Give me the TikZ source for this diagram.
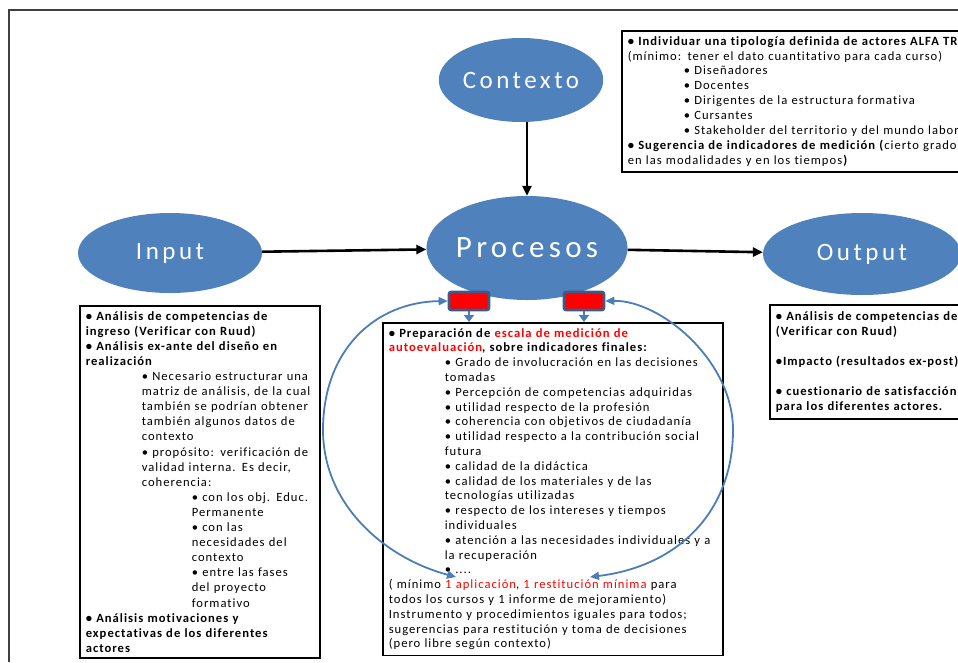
\documentclass[tikz,border=0pt]{standalone}
\usepackage{fontspec}
\setmainfont{Carlito}[LetterSpace=8,Ligatures=NoCommon]
\newfontfamily\phasefont{Carlito}[LetterSpace=14,Ligatures=NoCommon]
\usetikzlibrary{shapes.geometric,arrows.meta}
\definecolor{officeblue}{HTML}{4F81BD}
\definecolor{tagborder}{HTML}{385D8A}
\definecolor{loopblue}{HTML}{4A7EBB}
\newcommand\indA{\hspace*{56pt}}
\newcommand\indB{\hspace*{106pt}}
\newcommand\hl[1]{\textcolor{red}{#1}}

\begin{document}
\begin{tikzpicture}[x=1pt,y=-1pt,
  phase/.style={ellipse,fill=officeblue,text=white,inner sep=0pt,font=\phasefont\fontsize{25}{30}\selectfont},
  infobox/.style={draw,line width=1.6pt,anchor=north west,align=left,inner xsep=6pt,inner ysep=5.5pt},
  flow/.style={-{Triangle[length=10pt,width=9pt]},line width=2.6pt},
  tag/.style={fill=red,draw=tagborder,line width=2.6pt,rounded corners=2pt,minimum width=40pt,minimum height=18pt,inner sep=0pt},
  loop/.style={{Triangle[length=9pt,width=8pt]}-{Triangle[length=9pt,width=8pt]},loopblue,line width=1.8pt},
  drop/.style={-{Triangle[length=7pt,width=10pt]},loopblue,line width=1.8pt}]
  \useasboundingbox (0,0) rectangle (958,662);
  \clip (0,0) rectangle (958,662);
  \draw[line width=1.2pt,black!75] (958,10) -- (9,10) -- (9,662);

  % the four phases
  \node[phase,minimum width=146pt,minimum height=84pt] (ctx) at (521,80) {Contexto};
  \node[phase,minimum width=199pt,minimum height=104pt,font=\phasefont\fontsize{31}{36}\selectfont] (proc) at (527,248) {Procesos};
  \node[phase,minimum width=184pt,minimum height=80pt] (inp) at (170,253) {Input};
  \node[phase,minimum width=198pt,minimum height=82pt] (outp) at (862,254) {Output};

  \draw[flow] (proc.north |- ctx.south) -- (proc.north);
  \draw[flow] (inp) -- (proc);
  \draw[flow] (proc) -- (outp);

  % boxes under the phases
  \node[infobox,text width=400pt,font=\fontsize{12.6}{14.9}\selectfont] (ctxbox) at (621,30) {%
    \textbf{• Individuar una tipología definida de actores ALFA TRA}\\
    (mínimo: tener el dato cuantitativo para cada curso)\\
    \indA • Diseñadores\\
    \indA • Docentes\\
    \indA • Dirigentes de la estructura formativa\\
    \indA • Cursantes\\
    \indA • Stakeholder del territorio y del mundo labora\\
    \textbf{• Sugerencia de indicadores de medición (}cierto grado\\
    en las modalidades y en los tiempos\textbf{)}};

  \node[infobox,text width=228pt,font=\fontsize{12.6}{15.1}\selectfont] (inbox) at (79,305) {%
    \textbf{• Análisis de competencias de}\\
    \textbf{ingreso (Verificar con Ruud)}\\
    \textbf{• Análisis ex-ante del diseño en}\\
    \textbf{realización}\\
    \indA • Necesario estructurar una\\
    \indA matriz de análisis, de la cual\\
    \indA también se podrían obtener\\
    \indA también algunos datos de\\
    \indA contexto\\
    \indA • propósito: verificación de\\
    \indA validad interna. Es decir,\\
    \indA coherencia:\\
    \indB • con los obj. Educ.\\
    \indB Permanente\\
    \indB • con las\\
    \indB necesidades del\\
    \indB contexto\\
    \indB • entre las fases\\
    \indB del proyecto\\
    \indB formativo\\
    \textbf{• Análisis motivaciones y}\\
    \textbf{expectativas de los diferentes}\\
    \textbf{actores}};

  \node[infobox,text width=328pt,font=\fontsize{12.6}{14.8}\selectfont] (procbox) at (382,322) {%
    \textbf{• Preparación de \hl{escala de medición de}}\\
    \textbf{\hl{autoevaluación}, sobre indicadores finales:}\\
    \indA • Grado de involucración en las decisiones\\
    \indA tomadas\\
    \indA • Percepción de competencias adquiridas\\
    \indA • utilidad respecto de la profesión\\
    \indA • coherencia con objetivos de ciudadanía\\
    \indA • utilidad respecto a la contribución social\\
    \indA futura\\
    \indA • calidad de la didáctica\\
    \indA • calidad de los materiales y de las\\
    \indA tecnologías utilizadas\\
    \indA • respecto de los intereses y tiempos\\
    \indA individuales\\
    \indA • atención a las necesidades individuales y a\\
    \indA la recuperación\\
    \indA • ....\\
    ( mínimo \hl{1 aplicación}, \hl{1 restitución mínima} para\\
    todos los cursos y 1 informe de mejoramiento)\\
    Instrumento y procedimientos iguales para todos;\\
    sugerencias para restitución y toma de decisiones\\
    (pero libre según contexto)};

  \node[infobox,text width=300pt,inner ysep=7pt,font=\bfseries\fontsize{12.6}{14.6}\selectfont] (outbox) at (769,304) {%
    • Análisis de competencias de\\
    (Verificar con Ruud)\\[15.5pt]
    •Impacto (resultados ex-post)\\[15.5pt]
    • cuestionario de satisfacción\\
    para los diferentes actores.};

  % red markers and the feedback loops
  \node[tag] (ltag) at (469,301) {};
  \node[tag] (rtag) at (584,301) {};
  \draw[drop] (ltag.south) -- (ltag.south |- procbox.north);
  \draw[drop] (rtag.south) -- (rtag.south |- procbox.north);
  \coordinate (lhit) at (456,577);
  \coordinate (rhit) at (590,577);
  \draw[loop] (ltag.west) .. controls (375,302) and (323,350) .. (323,430)
    .. controls (323,505) and (385,558) .. (lhit);
  \draw[loop] (rtag.east) .. controls (660,300) and (733,360) .. (733,430)
    .. controls (733,510) and (680,566) .. (rhit);
\end{tikzpicture}
\end{document}
